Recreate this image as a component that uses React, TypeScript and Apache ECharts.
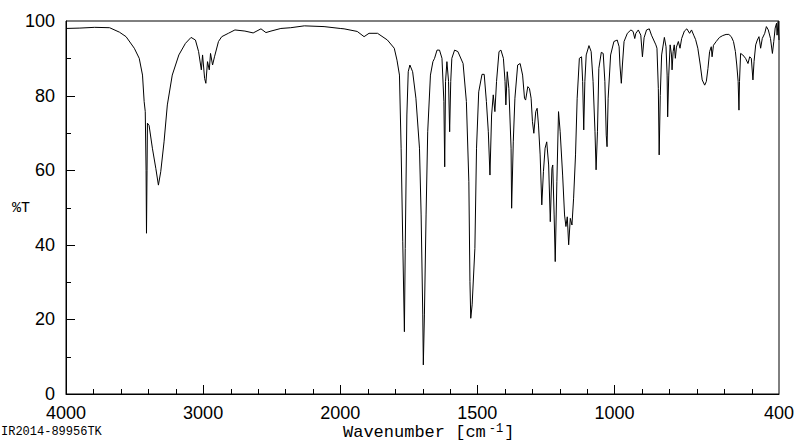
import React, { useEffect, useRef } from "react";
import * as echarts from "echarts";

// Spectrum (wavenumber in cm-1, transmittance in %T)
const wavenumbers: number[] = [
  4000, 3899, 3791, 3682, 3610, 3562, 3502, 3466, 3442, 3430,
  3422, 3416, 3413, 3409, 3406, 3394, 3370, 3345, 3326, 3309,
  3285, 3261, 3225, 3177, 3129, 3088, 3056, 3033, 3013, 3004,
  2989, 2980, 2968, 2955, 2946, 2931, 2917, 2888, 2864, 2816,
  2768, 2695, 2635, 2578, 2542, 2505, 2433, 2361, 2262, 2118,
  2000, 1986, 1938, 1913, 1895, 1864, 1828, 1803, 1793, 1784,
  1778, 1772, 1766, 1763, 1757, 1752, 1746, 1736, 1724, 1711,
  1705, 1699, 1697, 1693, 1687, 1681, 1671, 1662, 1656, 1647,
  1638, 1629, 1622, 1619, 1616, 1611, 1605, 1601, 1597, 1593,
  1583, 1571, 1552, 1540, 1531, 1527, 1524, 1519, 1509, 1503,
  1495, 1483, 1475, 1467, 1460, 1454, 1448, 1442, 1436, 1430,
  1421, 1414, 1405, 1399, 1396, 1391, 1385, 1377, 1375, 1369,
  1363, 1353, 1344, 1335, 1328, 1324, 1316, 1310, 1304, 1299,
  1294, 1287, 1282, 1277, 1271, 1265, 1259, 1253, 1247, 1240,
  1234, 1228, 1225, 1220, 1216, 1210, 1204, 1198, 1189, 1182,
  1177, 1172, 1167, 1161, 1155, 1149, 1142, 1136, 1128, 1120,
  1116, 1112, 1108, 1103, 1093, 1085, 1078, 1071, 1067, 1062,
  1057, 1048, 1041, 1035, 1030, 1027, 1023, 1014, 1002, 990,
  983, 980, 975, 971, 965, 953, 940, 932, 926, 922,
  913, 904, 898, 892, 883, 873, 865, 849, 845, 840,
  837, 833, 828, 818, 812, 808, 806, 802, 797, 792,
  790, 786, 782, 778, 774, 767, 761, 755, 745, 736,
  726, 719, 711, 704, 696, 687, 680, 671, 665, 659,
  653, 647, 644, 639, 629, 617, 605, 593, 583, 574,
  566, 559, 554, 549, 546, 544, 540, 532, 522, 513,
  507, 501, 495, 491, 485, 479, 473, 467, 461, 452,
  446, 439, 431, 424, 419, 414, 409, 407, 403, 400,
];

const transmittance: number[] = [
  98.0, 98.1, 98.3, 98.2, 97.0, 95.8, 92.7, 90.0, 85.5, 78.4,
  75.7, 60.0, 43.1, 60.0, 72.6, 72.0, 65.9, 60.5, 56.0, 59.6,
  67.6, 77.5, 85.5, 90.9, 94.0, 95.6, 94.9, 91.8, 86.9, 90.9,
  84.6, 83.3, 89.1, 86.9, 91.3, 88.2, 90.4, 94.5, 95.8, 96.7,
  97.6, 97.3, 96.8, 97.9, 96.9, 97.3, 98.0, 98.2, 98.7, 98.5,
  98.0, 97.9, 97.2, 95.8, 96.7, 96.7, 94.9, 92.7, 89.5, 85.5,
  65.9, 40.8, 16.7, 39.0, 74.8, 86.4, 88.2, 86.4, 79.3, 65.9,
  48.0, 21.2, 7.8, 21.2, 48.0, 70.3, 85.5, 89.1, 90.0, 92.2,
  92.2, 90.0, 78.4, 60.9, 83.8, 89.1, 83.8, 70.3, 83.8, 90.0,
  92.2, 91.8, 88.6, 78.4, 56.9, 30.1, 20.3, 23.9, 39.0, 65.9,
  81.0, 85.7, 85.7, 78.4, 70.3, 58.7, 74.8, 80.2, 75.7, 83.8,
  91.8, 92.2, 90.0, 83.8, 77.5, 86.4, 81.9, 65.9, 49.8, 67.6,
  79.3, 88.2, 88.6, 85.5, 79.3, 78.8, 82.4, 81.9, 79.3, 73.0,
  69.9, 75.7, 76.6, 72.1, 64.1, 50.7, 59.6, 65.9, 67.6, 61.4,
  46.2, 60.5, 61.4, 48.0, 35.5, 56.9, 75.7, 70.3, 58.7, 48.0,
  44.9, 47.5, 40.0, 47.1, 45.3, 52.5, 64.1, 79.3, 90.0, 90.4,
  83.8, 70.8, 83.8, 90.9, 93.4, 91.8, 83.8, 70.3, 60.1, 70.3,
  87.3, 91.6, 91.3, 83.8, 69.4, 66.3, 79.3, 90.9, 94.5, 94.9,
  93.1, 88.2, 83.3, 88.2, 94.5, 96.7, 97.6, 97.2, 95.3, 96.7,
  97.6, 96.2, 90.4, 95.5, 97.6, 97.9, 96.2, 93.6, 92.7, 81.9,
  64.1, 80.0, 90.9, 95.6, 93.1, 85.5, 74.3, 85.5, 93.6, 90.9,
  86.9, 91.8, 93.6, 90.0, 93.0, 94.5, 92.7, 95.3, 97.3, 97.9,
  96.7, 97.6, 96.2, 95.0, 92.7, 88.2, 84.2, 82.8, 83.8, 87.3,
  91.8, 93.1, 90.4, 93.5, 94.5, 95.6, 96.1, 96.4, 96.4, 95.8,
  94.5, 91.8, 88.2, 83.8, 76.1, 83.8, 91.3, 90.9, 90.0, 88.6,
  90.4, 90.0, 84.2, 89.1, 93.6, 94.9, 95.8, 92.7, 95.3, 96.7,
  98.5, 97.6, 95.3, 91.3, 94.5, 98.1, 99.4, 96.2, 99.9, 94.9,
];

const xLabelValues: number[] = [4000, 3000, 2000, 1500, 1000, 400];
const xMajorTickValues: number[] = [3000, 2000, 1500, 1000];
const xMinorTickValues: number[] = [
  3800, 3600, 3400, 3200, 2800, 2600, 2400, 2200,
  1900, 1800, 1700, 1600, 1400, 1300, 1200, 1100,
  900, 800, 700, 600, 500,
];
const yMajorTickValues: number[] = [20, 40, 60, 80];
const yMinorTickValues: number[] = [10, 30, 50, 70, 90];

const X_LEFT_EDGE = 4000;

// Instrument chart scale: above 2000 cm-1 the axis is compressed by a factor of 2
const toAxis = (w: number) => (w > 2000 ? 2000 + (w - 2000) / 2 : w);
const fromAxis = (p: number) => (p > 2000 ? 2000 + (p - 2000) * 2 : p);

const crisp = (v: number) => Math.round(v) + 0.5;

function tickSeries(points: number[][], length: number, vertical: boolean) {
  return {
    type: "custom",
    coordinateSystem: "cartesian2d",
    silent: true,
    clip: false,
    z: 5,
    encode: { x: 0, y: 1 },
    data: points,
    renderItem: (_params: any, api: any) => {
      const c = api.coord([api.value(0), api.value(1)]);
      const x = crisp(c[0]);
      const y = crisp(c[1]);
      const shape = vertical
        ? { x1: x, y1: Math.round(c[1]), x2: x, y2: Math.round(c[1]) - length }
        : { x1: Math.round(c[0]), y1: y, x2: Math.round(c[0]) + length, y2: y };
      return {
        type: "line",
        shape,
        style: { stroke: "#000", lineWidth: 1 },
      };
    },
  };
}

export default function App() {
  const ref = useRef<HTMLDivElement>(null);

  useEffect(() => {
    if (!ref.current) return;
    const chart = echarts.init(ref.current, undefined, { renderer: "svg" });
    const data = wavenumbers.map((w, i) => [toAxis(w), transmittance[i]]);
    const labelFont = { color: "#000", fontFamily: "Liberation Sans, Arial, sans-serif", fontSize: 18 };
    const mono = "Liberation Mono, Courier New, monospace";

    chart.setOption({
      animation: false,
      backgroundColor: "#fff",
      grid: {
        left: 66,
        right: 21,
        top: 21,
        bottom: 47,
        show: true,
        borderColor: "#000",
        borderWidth: 1,
        backgroundColor: "transparent",
      },
      xAxis: {
        type: "value",
        min: 400,
        max: 3000,
        inverse: true,
        axisLine: { show: true, onZero: false, lineStyle: { color: "#000", width: 1 } },
        axisTick: { show: false },
        axisLabel: {
          ...labelFont,
          margin: 10,
          customValues: xLabelValues.map(toAxis),
          formatter: (v: number) => String(Math.round(fromAxis(v))),
          showMinLabel: true,
          showMaxLabel: true,
        },
        splitLine: { show: false },
      },
      yAxis: {
        type: "value",
        min: 0,
        max: 100,
        interval: 20,
        axisLine: { show: true, lineStyle: { color: "#000", width: 1 } },
        axisTick: { show: false },
        minorTick: { show: false },
        axisLabel: { ...labelFont, margin: 11 },
        splitLine: { show: false },
      },
      graphic: [
        {
          type: "text",
          left: 12,
          top: 201,
          style: { text: "%T", fill: "#000", font: "15px 'Liberation Mono', 'Courier New', monospace" },
        },
        {
          type: "text",
          left: 343,
          top: 423,
          style: {
            text: "{a|Wavenumber [cm}{s|-1}{a|]}",
            fill: "#000",
            rich: {
              a: { fontFamily: mono, fontSize: 17, fill: "#000", verticalAlign: "bottom", lineHeight: 18 },
              s: { fontFamily: mono, fontSize: 12, fill: "#000", verticalAlign: "top", lineHeight: 18, padding: [0, 1, 9, 3] },
            },
          },
        },
        {
          type: "text",
          left: 1,
          top: 426,
          style: { text: "IR2014-89956TK", fill: "#000", font: "12px 'Liberation Mono', 'Courier New', monospace" },
        },
      ],
      series: [
        {
          type: "line",
          data,
          showSymbol: false,
          symbol: "none",
          lineStyle: { color: "#000", width: 1 },
          silent: true,
        },
        tickSeries(xMajorTickValues.map((w) => [toAxis(w), 0]), 9, true),
        tickSeries(xMinorTickValues.map((w) => [toAxis(w), 0]), 5, true),
        tickSeries(yMajorTickValues.map((v) => [toAxis(X_LEFT_EDGE), v]), 9, false),
        tickSeries(yMinorTickValues.map((v) => [toAxis(X_LEFT_EDGE), v]), 5, false),
      ],
    });

    return () => chart.dispose();
  }, []);

  return (
    <div
      ref={ref}
      style={{ position: "fixed", left: 0, top: 0, width: 800, height: 441, background: "#fff" }}
    />
  );
}
